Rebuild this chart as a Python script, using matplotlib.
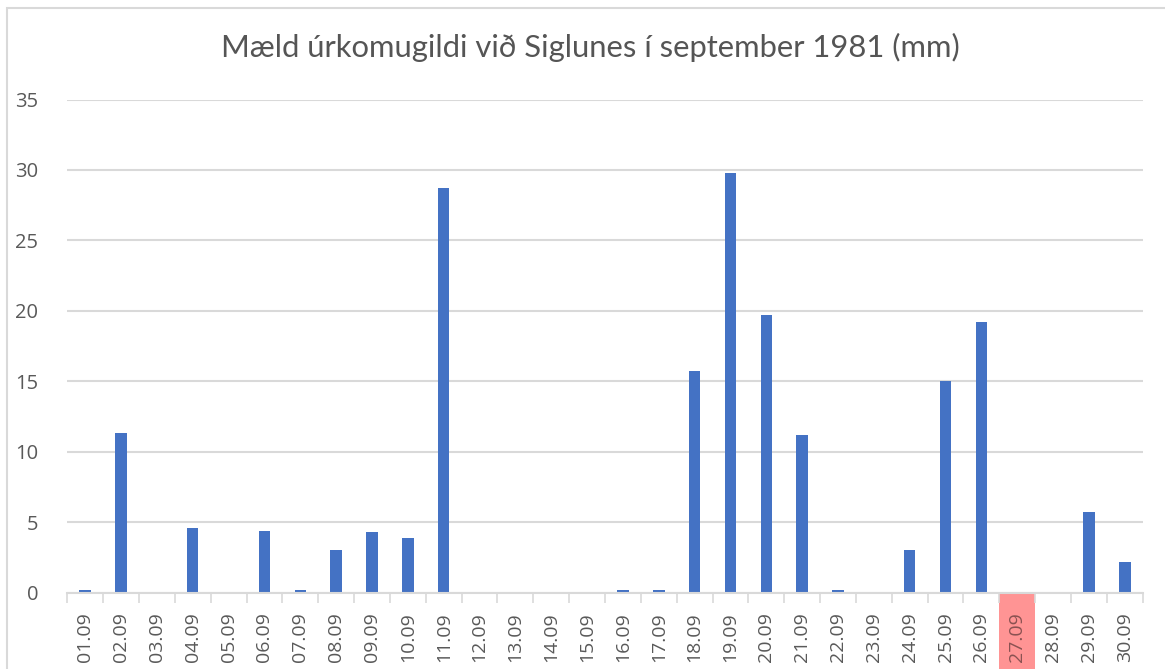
import matplotlib
matplotlib.use("Agg")
import matplotlib.pyplot as plt
from matplotlib.patches import Rectangle

days = [f"{d:02d}.09" for d in range(1, 31)]
rain_mm = [0.2, 11.3, 0.0, 4.6, 0.0, 4.4, 0.2, 3.0, 4.3, 3.9,
           28.7, 0.0, 0.0, 0.0, 0.0, 0.2, 0.2, 15.7, 29.8, 19.7,
           11.2, 0.2, 0.0, 3.0, 15.0, 19.2, 0.0, 0.0, 5.7, 2.2]
highlight_day = "27.09"
title = "Mæld úrkomugildi við Siglunes í september 1981 (mm)"
yticks = [0, 5, 10, 15, 20, 25, 30, 35]

TICKFONT = ["Open Sans", "DejaVu Sans"]

W, H = 1165, 669
fig = plt.figure(figsize=(W / 100, H / 100), dpi=100)
fig.patch.set_facecolor("white")

# outer chart frame
fig.add_artist(Rectangle((7 / W, -0.1), 1.2, (H - 8) / H + 0.1,
                         transform=fig.transFigure, fill=False,
                         edgecolor="#d9d9d9", lw=1.5))

left, right = 67.3 / W, 1142.7 / W
bottom, top = 1 - 592.5 / H, 1 - 99.5 / H
ax = fig.add_axes([left, bottom, right - left, top - bottom])

x = list(range(len(days)))
ax.bar(x, rain_mm, width=0.32, color="#4472C4", zorder=3)

ax.set_xlim(-0.5, len(days) - 0.5)
ax.set_ylim(0, 35)
ax.set_yticks(yticks)
ax.set_yticklabels([str(v) for v in yticks])
ax.yaxis.grid(True, color="#d9d9d9", lw=1.5, zorder=0)
ax.tick_params(axis="y", length=0, pad=21, labelsize=14.5, labelcolor="#595959")

for s in ["top", "right", "left"]:
    ax.spines[s].set_visible(False)
ax.spines["bottom"].set_color("#d9d9d9")
ax.spines["bottom"].set_linewidth(1.5)
ax.spines["bottom"].set_zorder(4)

# category-boundary ticks
ax.set_xticks([i - 0.5 for i in range(len(days) + 1)], minor=False)
ax.set_xticklabels([""] * (len(days) + 1))
ax.tick_params(axis="x", which="major", length=7, width=1.2, color="#d9d9d9")
ax.set_xticks(x, minor=True)
ax.set_xticklabels(days, minor=True, rotation=90)
ax.tick_params(axis="x", which="minor", length=0, pad=14, labelsize=14,
               labelcolor="#595959")

for lab in ax.get_xticklabels(minor=True):
    lab.set_fontfamily(TICKFONT)
    if lab.get_text() == highlight_day:
        lab.set_color("#8a5252")
for lab in ax.get_yticklabels():
    lab.set_fontfamily(TICKFONT)

# highlight the label cell of one day
hi = days.index(highlight_day)
ax.add_patch(Rectangle((hi - 0.5, 0), 1, -2.0, transform=ax.get_xaxis_transform(),
                       facecolor="#ff9494", edgecolor="none", clip_on=False,
                       zorder=0.5))

fig.text(590 / W, 1 - 47 / H, title, ha="center", va="center", fontsize=22.3,
         color="#555555", family=["Lato", "DejaVu Sans"], fontweight="normal")

fig.savefig("out.png", dpi=100, facecolor="white")
